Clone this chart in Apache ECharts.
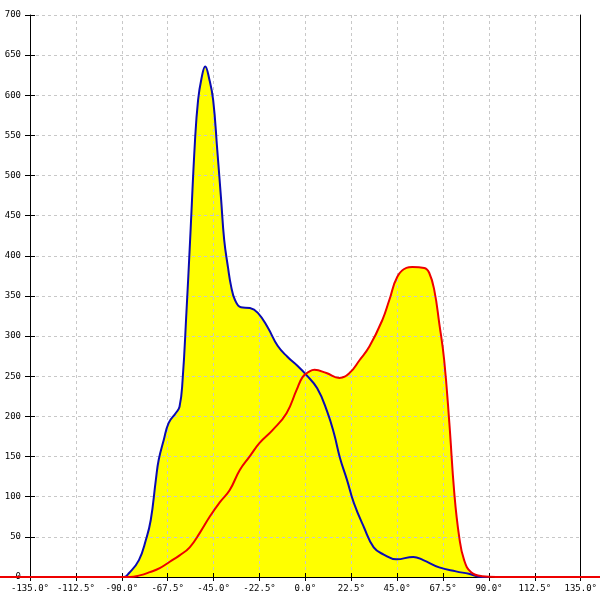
<!DOCTYPE html>
<html>
<head>
<meta charset="utf-8">
<script src="https://cdn.jsdelivr.net/npm/echarts@6/dist/echarts.min.js"></script>
<style>html,body{margin:0;padding:0;background:#fff}#c{width:600px;height:600px}</style>
</head>
<body>
<div id="c"></div>
<script>
// angle (deg) / value readings
var blueX = [-90, -88.9, -86.4, -81.6, -78.2, -75.8, -73.3, -71.9, -69.4, -67.0, -63.6, -61.7, -60.2, -58.3, -56.5, -54.1, -52.6, -51.0, -49.1, -47.1, -45.2, -43.2, -41.3, -39.8, -37.9, -36.4, -34.5, -31.6, -27.2, -23.3, -18.5, -13.6, -8.7, -3.9, 0, 5.8, 10.7, 14.1, 17.0, 20.4, 23.8, 28.7, 33.5, 38.4, 44.7, 52.9, 57.8, 65.6, 73.8, 80.1, 86.9, 90];
var blueY = [0, 0, 5, 21, 46, 71, 121, 146, 171, 192, 204, 212, 245, 330, 420, 544, 594, 620, 636, 620, 594, 532, 470, 420, 385, 362, 345, 336, 335, 329, 311, 288, 274, 263, 253, 235, 206, 178, 148, 121, 92, 62, 37, 28, 22, 25, 21, 12, 7, 4, 0, 0];
var redX = [-155, -89.8, -86.4, -81.6, -76.7, -71.9, -67.0, -62.2, -57.3, -52.4, -47.6, -42.7, -37.9, -33.0, -28.2, -23.3, -17.0, -10.2, -5.3, -2.4, 1.0, 3.4, 9.2, 15.5, 20.4, 25.3, 30.1, 36.4, 39.8, 43.7, 48.1, 51.0, 56.8, 59.2, 61.7, 64.1, 66.5, 69.0, 71.4, 73.8, 76.2, 79.6, 85.0, 91.8, 155];
var redY = [0, 0, 0, 2, 6, 11, 19, 27, 37, 55, 75, 93, 108, 133, 150, 167, 183, 204, 233, 249, 256, 258, 254, 248, 254, 270, 287, 320, 345, 374, 385, 386, 385, 379, 357, 316, 270, 192, 105, 50, 21, 6, 1, 0, 0];
var xTicks = [-135, -112.5, -90, -67.5, -45, -22.5, 0, 22.5, 45, 67.5, 90, 112.5, 135];
var yTicks = [0, 50, 100, 150, 200, 250, 300, 350, 400, 450, 500, 550, 600, 650, 700];

function pairs(xs, ys) { return xs.map(function (x, i) { return [x, ys[i]]; }); }
var blueData = pairs(blueX, blueY);
var redData = pairs(redX, redY);

var W = 600;
var FONT = 'DejaVu Sans Mono';
var G = { left: 30, right: 15, top: 15, bottom: 23 };
var xMin = xTicks[0], xMax = xTicks[xTicks.length - 1], xInt = xTicks[1] - xTicks[0];
var yMin = yTicks[0], yMax = yTicks[yTicks.length - 1], yInt = yTicks[1] - yTicks[0];
// full-width overlay grid with the same x scale, so the red baseline runs edge to edge
var degPerPx = (xMax - xMin) / (W - G.left - G.right);
var x2Min = xMin - G.left * degPerPx, x2Max = xMax + G.right * degPerPx;
var SMOOTH = 0.45;

var split = { show: true, lineStyle: { color: '#c8c8c8', type: [3, 3], width: 1 } };

var option = {
  animation: false,
  backgroundColor: '#ffffff',
  grid: [G, { left: 0, right: 0, top: G.top, bottom: G.bottom }],
  xAxis: [{
    type: 'value', gridIndex: 0, min: xMin, max: xMax, interval: xInt, position: 'bottom', z: 2,
    axisLine: { show: true, onZero: false, lineStyle: { color: '#000', width: 1 } },
    axisTick: { show: true, inside: false, length: 4, lineStyle: { color: '#000' } },
    axisLabel: { margin: 7, color: '#000', fontFamily: FONT, fontSize: 9,
      formatter: function (v) { return v.toFixed(1) + '°'; } },
    splitLine: split
  }, {
    type: 'value', gridIndex: 0, min: xMin, max: xMax, interval: xInt, position: 'bottom', offset: 0, z: 2,
    axisLine: { show: false, onZero: false },
    axisTick: { show: true, inside: true, length: 4, lineStyle: { color: '#000' } },
    axisLabel: { show: false }, splitLine: { show: false }
  }, {
    type: 'value', gridIndex: 1, min: x2Min, max: x2Max, show: false,
    axisLine: { onZero: false }, splitLine: { show: false }
  }],
  yAxis: [{
    type: 'value', gridIndex: 0, min: yMin, max: yMax, interval: yInt, position: 'left', z: 2,
    axisLine: { show: true, onZero: false, lineStyle: { color: '#000', width: 1 } },
    axisTick: { show: true, inside: false, length: 5, lineStyle: { color: '#000' } },
    axisLabel: { margin: 9, color: '#000', fontFamily: FONT, fontSize: 9 },
    splitLine: split
  }, {
    type: 'value', gridIndex: 0, min: yMin, max: yMax, interval: yInt, position: 'left', offset: 0, z: 2,
    axisLine: { show: false, onZero: false },
    axisTick: { show: true, inside: true, length: 5, lineStyle: { color: '#000' } },
    axisLabel: { show: false }, splitLine: { show: false }
  }, {
    type: 'value', gridIndex: 0, min: yMin, max: yMax, interval: yInt, position: 'right', offset: 0, z: 2,
    axisLine: { show: true, onZero: false, lineStyle: { color: '#000', width: 1 } },
    axisTick: { show: false }, axisLabel: { show: false }, splitLine: { show: false }
  }, {
    type: 'value', gridIndex: 1, min: yMin, max: yMax, show: false,
    axisLine: { onZero: false }, splitLine: { show: false }
  }],
  series: [
    { type: 'line', data: redData, xAxisIndex: 2, yAxisIndex: 3, z: 1, smooth: SMOOTH, symbol: 'none',
      lineStyle: { width: 0 }, areaStyle: { color: '#ffff00', opacity: 1 } },
    { type: 'line', data: blueData, xAxisIndex: 0, yAxisIndex: 0, z: 1, smooth: SMOOTH, symbol: 'none',
      lineStyle: { width: 0 }, areaStyle: { color: '#ffff00', opacity: 1 } },
    { type: 'line', data: blueData, xAxisIndex: 0, yAxisIndex: 0, z: 3, smooth: SMOOTH, symbol: 'none',
      lineStyle: { width: 2, color: '#0a0ab4' } },
    { type: 'line', data: redData, xAxisIndex: 2, yAxisIndex: 3, z: 4, smooth: SMOOTH, symbol: 'none',
      lineStyle: { width: 2, color: '#ee0000' } }
  ]
};
var chart = echarts.init(document.getElementById('c'), null, { renderer: 'canvas' });
chart.setOption(option);
</script>
</body>
</html>
